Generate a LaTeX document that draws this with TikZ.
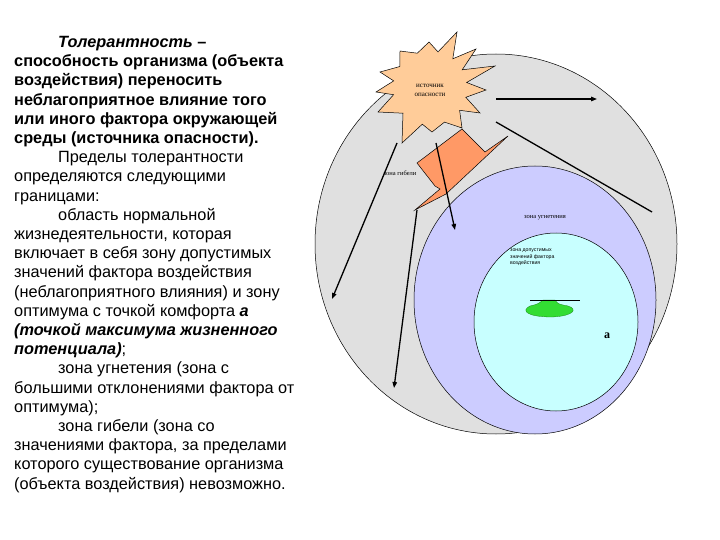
\documentclass[tikz,border=0pt]{standalone}
\usepackage{fontspec}
\setmainfont{Liberation Sans}
\newfontfamily\tmsfont{Liberation Serif}
\usetikzlibrary{arrows.meta, positioning}
\definecolor{zonagib}{HTML}{E0E0E0}
\definecolor{zonaugn}{HTML}{CCCCFF}
\definecolor{zonadop}{HTML}{C8FFFF}
\definecolor{istochnik}{HTML}{FFCC99}
\definecolor{molnia}{HTML}{FF9966}
\definecolor{optimum}{HTML}{33DD33}

\begin{document}
\begin{tikzpicture}[
        x=1pt, y=-1pt,
        pfeil/.style={line width=1.3pt, -{Triangle[length=6pt,width=4.5pt]}},
        zone/.style={draw=black, line width=0.5pt},
        klein/.style={font=\tmsfont\fontsize{6.5}{7}\selectfont, inner sep=0},
      ]
      \useasboundingbox (0,0) rectangle (720,540);

      % Text links
      \node[anchor=north west, align=left, inner sep=0,
            font=\fontsize{16.3}{19.2}\selectfont] (definicija) at (14,36) {%
        \hspace*{44pt}\textbf{\textit{Толерантность} –}\\
        \textbf{способность организма (объекта}\\
        \textbf{воздействия) переносить}\\
        \textbf{неблагоприятное влияние того}\\
        \textbf{или иного фактора окружающей}\\
        \textbf{среды (источника опасности).}\\
        \hspace*{44pt}Пределы толерантности\\
        определяются следующими\\
        границами:\\
        \hspace*{44pt}область нормальной\\
        жизнедеятельности, которая\\
        включает в себя зону допустимых\\
        значений фактора воздействия\\
        (неблагоприятного влияния) и зону\\
        оптимума с точкой комфорта \textbf{\textit{а}}\\
        \textbf{\textit{(точкой максимума жизненного}}\\
        \textbf{\textit{потенциала)}};\\
        \hspace*{44pt}зона угнетения (зона с\\
        большими отклонениями фактора от\\
        оптимума);\\
        \hspace*{44pt}зона гибели (зона со\\
        значениями фактора, за пределами\\
        которого существование организма\\
        (объекта воздействия) невозможно.};

      % Zonen
      \filldraw[zone, fill=zonagib] (496,244) ellipse [x radius=181pt, y radius=190pt];
      \filldraw[zone, fill=zonaugn] (535,300) ellipse [x radius=121pt, y radius=134pt];
      \filldraw[zone, fill=zonadop] (556,322) ellipse [x radius=82pt, y radius=89pt];

      % Quelle der Gefahr (Stern)
      \filldraw[zone, fill=istochnik]
        (457,32) -- (452.8,58.8) -- (476,49) -- (462.2,69.8) -- (495,66)
        -- (466.6,82.5) -- (486,90) -- (465.8,97.3) -- (480,113)
        -- (459.6,110.3) -- (462,128) -- (444.5,122.1) -- (432,132)
        -- (422.3,124.2) -- (402,143) -- (403,113.2) -- (378,112)
        -- (393.6,94.7) -- (376,92) -- (393.7,80.9) -- (380,72)
        -- (399.9,66.5) -- (400,51) -- (417.3,53.2) -- (429,42)
        -- (438,51.9) -- cycle;
      \node[klein, align=center, font=\tmsfont\fontsize{7}{9}\selectfont]
        (quelle) at (430,90) {источник\\опасности};

      % Blitz
      \filldraw[zone, fill=molnia]
        (417,163) -- (462,129) -- (485,152) -- (508,136) -- (446,194)
        -- (415,210) -- (440,189) -- (435,186) -- cycle;

      % Pfeile
      \coordinate (p1a) at (496,99);  \coordinate (p1b) at (597,99);
      \coordinate (p2a) at (496,122); \coordinate (p2b) at (652,212);
      \coordinate (p3a) at (397,143); \coordinate (p3b) at (332,299);
      \coordinate (p4a) at (436,143); \coordinate (p4b) at (455,230);
      \coordinate (p5a) at (417,210); \coordinate (p5b) at (394,388);
      \draw[pfeil] (p1a) -- (p1b);
      \draw[line width=1.3pt] (p2a) -- (p2b);
      \draw[pfeil] (p3a) -- (p3b);
      \draw[pfeil] (p4a) -- (p4b);
      \draw[pfeil] (p5a) -- (p5b);

      % Beschriftungen
      \node[klein] (gibel) at (400,173) {зона гибели};
      \node[klein] (ugnet) at (545,218) {зона угнетения};
      \node[anchor=north west, align=left, inner sep=0,
            font=\fontsize{5.2}{6.5}\selectfont] (dopust) at (510,249)
        {зона допустимых\\значений фактора\\воздействия};

      % Optimum
      \filldraw[draw=optimum!60!black, line width=0.3pt, fill=optimum]
        (543,300) -- (555,300) .. controls (558,304) .. (568,306)
        .. controls (578,309) and (574,316) .. (552,317)
        .. controls (528,317) and (520,311) .. (530,306)
        .. controls (538,304) .. (543,300) -- cycle;
      \draw[line width=0.6pt] (530,300) -- (580,300);
      \node[inner sep=0, font=\tmsfont\bfseries\fontsize{12}{12}\selectfont]
        (komfort) at (607,336) {а};
    \end{tikzpicture}
\end{document}
